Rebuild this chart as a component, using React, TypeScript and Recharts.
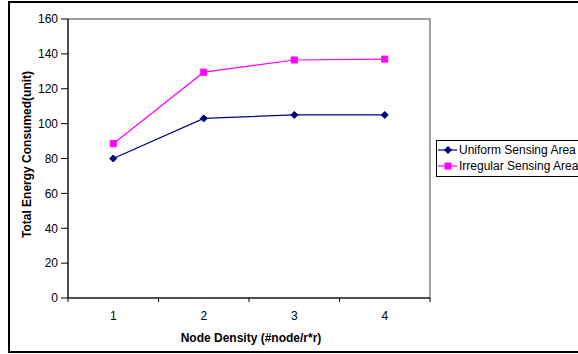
import React from 'react';
import { LineChart, Line, XAxis, YAxis, ReferenceArea } from 'recharts';

// Node density categories and energy readings per sensing model
const densities = [1, 2, 3, 4];
const uniformEnergy = [80, 103, 105, 105];
const irregularEnergy = [88.5, 129.5, 136.5, 137];
const yTicks = [0, 20, 40, 60, 80, 100, 120, 140, 160];
// half steps carry the boundary tick marks, whole steps carry the labels
const xTicks = [0.5, 1, 1.5, 2, 2.5, 3, 3.5, 4, 4.5];
const seriesNames = ['Uniform Sensing Area', 'Irregular Sensing Area'];

const NAVY = '#000080';
const MAGENTA = '#FF00FF';
const FONT = 'Arial, "Liberation Sans", sans-serif';

const data = densities.map((d, i) => ({
  density: d,
  uniform: uniformEnergy[i],
  irregular: irregularEnergy[i],
}));

const Diamond = ({ cx, cy, color }: any) => (
  <path
    d={`M${cx},${cy - 3.5}L${cx + 3.5},${cy}L${cx},${cy + 3.5}L${cx - 3.5},${cy}Z`}
    fill={color}
    stroke={color}
  />
);

const Square = ({ cx, cy, color }: any) => (
  <rect x={cx - 3} y={cy - 3} width={6} height={6} fill={color} stroke={color} />
);

const XTick = ({ x, y, payload }: any) => {
  if (Number.isInteger(payload.value)) {
    return (
      <text x={x} y={y + 22} textAnchor="middle" fontSize={12} fontFamily={FONT} fill="#000">
        {payload.value}
      </text>
    );
  }
  return <line x1={x} y1={y} x2={x} y2={y + 4} stroke="#000" />;
};

const YTitle = ({ viewBox }: any) => {
  const cy = viewBox.y + viewBox.height / 2 - 4;
  return (
    <text
      x={31}
      y={cy}
      transform={`rotate(-90, 31, ${cy})`}
      textAnchor="middle"
      fontSize={12}
      fontWeight="bold"
      fontFamily={FONT}
      fill="#000"
    >
      Total Energy Consumed(unit)
    </text>
  );
};

const XTitle = ({ viewBox }: any) => (
  <text
    x={viewBox.x + viewBox.width / 2 + 2}
    y={342}
    textAnchor="middle"
    fontSize={12}
    fontWeight="bold"
    fontFamily={FONT}
    fill="#000"
  >
    Node Density (#node/r*r)
  </text>
);

const LegendBox = () => {
  const items = [
    { name: seriesNames[0], color: NAVY, shape: 'diamond' },
    { name: seriesNames[1], color: MAGENTA, shape: 'square' },
  ];
  return (
    <div
      style={{
        position: 'absolute',
        left: 436,
        top: 140,
        width: 160,
        height: 37,
        boxSizing: 'border-box',
        border: '1px solid #000',
        background: '#fff',
        paddingTop: 1,
        paddingLeft: 1,
        fontFamily: FONT,
        fontSize: 12,
      }}
    >
      {items.map(item => (
        <div key={item.name} style={{ display: 'flex', alignItems: 'center', height: 16, whiteSpace: 'nowrap' }}>
          <svg width={20} height={10} style={{ flex: 'none' }}>
            <line x1={0} y1={5} x2={19} y2={5} stroke={item.color} strokeWidth={1.2} />
            {item.shape === 'diamond' ? (
              <Diamond cx={10} cy={5} color={item.color} />
            ) : (
              <Square cx={10} cy={5} color={item.color} />
            )}
          </svg>
          <span style={{ marginLeft: 1, color: '#000' }}>{item.name}</span>
        </div>
      ))}
    </div>
  );
};

export default function App() {
  return (
    <div
      style={{
        position: 'fixed',
        left: 0,
        top: 0,
        width: 578,
        height: 354,
        overflow: 'hidden',
        background: '#fff',
      }}
    >
      <div
        style={{
          position: 'absolute',
          left: 8,
          top: 1,
          width: 640,
          height: 352,
          boxSizing: 'border-box',
          border: '2px solid #000',
        }}
      />
      <div style={{ position: 'absolute', left: 0, top: 0 }}>
        <LineChart
          width={578}
          height={354}
          data={data}
          margin={{ top: 19, right: 148, bottom: 0, left: 0 }}
        >
          <ReferenceArea
            x1={0.5}
            x2={4.5}
            y1={0}
            y2={160}
            fill="none"
            stroke="#808080"
            strokeWidth={1.5}
            ifOverflow="visible"
          />
          <XAxis
            dataKey="density"
            type="number"
            domain={[0.5, 4.5]}
            ticks={xTicks}
            interval={0}
            height={56}
            tickLine={false}
            tickSize={0}
            tickMargin={0}
            axisLine={{ stroke: '#000' }}
            tick={<XTick />}
            label={{ content: <XTitle /> }}
          />
          <YAxis
            type="number"
            domain={[0, 160]}
            ticks={yTicks}
            interval={0}
            width={68}
            tickSize={7}
            tickMargin={3}
            axisLine={{ stroke: '#000' }}
            tickLine={{ stroke: '#000' }}
            tick={{ fill: '#000', fontSize: 12, fontFamily: FONT }}
            label={{ content: <YTitle /> }}
          />
          <Line
            dataKey="uniform"
            name={seriesNames[0]}
            stroke={NAVY}
            strokeWidth={1.2}
            dot={(p: any) => <Diamond key={`u-${p.index}`} cx={p.cx} cy={p.cy} color={NAVY} />}
            isAnimationActive={false}
          />
          <Line
            dataKey="irregular"
            name={seriesNames[1]}
            stroke={MAGENTA}
            strokeWidth={1.2}
            dot={(p: any) => <Square key={`i-${p.index}`} cx={p.cx} cy={p.cy} color={MAGENTA} />}
            isAnimationActive={false}
          />
        </LineChart>
      </div>
      <LegendBox />
    </div>
  );
}
